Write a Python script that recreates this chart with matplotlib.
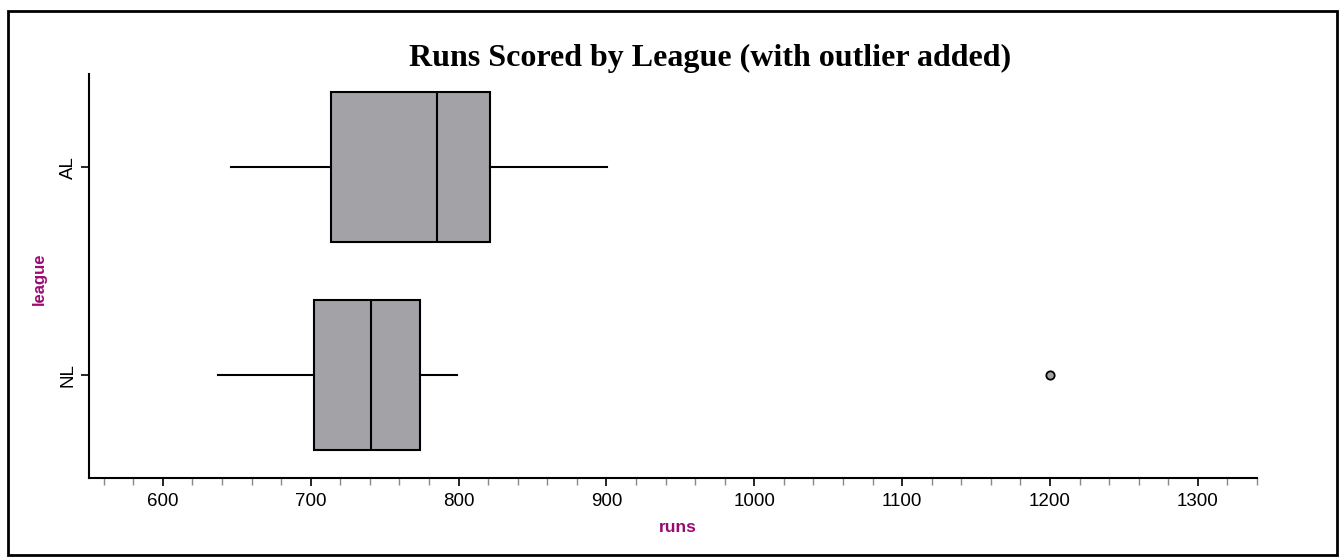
import matplotlib.pyplot as plt
from matplotlib.patches import Rectangle
from matplotlib.ticker import MultipleLocator

plt.rcParams["font.family"] = ["Liberation Sans", "DejaVu Sans"]

# five-number summaries per league, bottom to top
leagues = ["NL", "AL"]
whis_low = [637, 646]
q1 = [702.5, 714]
median = [741, 785.5]
q3 = [774, 821]
whis_high = [799, 900.5]
outliers = [[1200], []]

label_color = "#9B0A72"
box_color = "#A3A2A7"


def plot():
    fig = plt.figure(figsize=(13.39, 5.57), dpi=100)
    ax = fig.add_axes([89 / 1339, 1 - 478 / 557, 1168 / 1339, 404 / 557])

    stats = []
    for i, name in enumerate(leagues):
        stats.append({
            "label": name,
            "whislo": whis_low[i],
            "q1": q1[i],
            "med": median[i],
            "q3": q3[i],
            "whishi": whis_high[i],
            "fliers": outliers[i],
        })

    ax.bxp(stats, positions=[1, 2], widths=0.72, vert=False, patch_artist=True,
           showcaps=False,
           boxprops=dict(facecolor=box_color, edgecolor="black", linewidth=1.5),
           medianprops=dict(color="black", linewidth=1.5),
           whiskerprops=dict(color="black", linewidth=1.5),
           flierprops=dict(marker="o", markersize=6, markerfacecolor=box_color,
                           markeredgecolor="black", markeredgewidth=1.3))

    ax.set_xlim(550, 1340)
    ax.set_ylim(0.507, 2.447)

    for side in ("top", "right"):
        ax.spines[side].set_visible(False)
    for side in ("left", "bottom"):
        ax.spines[side].set_linewidth(1.5)

    ax.xaxis.set_major_locator(MultipleLocator(100))
    ax.xaxis.set_minor_locator(MultipleLocator(20))
    ax.tick_params(axis="x", which="major", length=6, width=1.2, pad=5, labelsize=13.5)
    ax.tick_params(axis="x", which="minor", length=5, width=1.0, color="#888888")
    ax.tick_params(axis="y", length=6, width=1.2, pad=3, labelsize=13.5)
    ax.set_yticks([1, 2])
    ax.set_yticklabels(leagues, rotation=90, va="center")

    ax.set_xlabel("runs", fontsize=12.5, fontweight="bold", color=label_color)
    ax.xaxis.set_label_coords((678 - 89) / 1168, -(520 - 478) / 404)
    ax.set_ylabel("league", fontsize=12, fontweight="bold", color=label_color)
    ax.yaxis.set_label_coords((47 - 89) / 1168, (478 - 279) / 404)

    fig.text(710 / 1339, 1 - 58 / 557, "Runs Scored by League (with outlier added)",
             family="Liberation Serif", fontweight="bold", fontsize=23,
             ha="center", va="center")

    # outer frame around the whole figure
    fig.patches.append(Rectangle((8 / 1339, 2 / 557), 1329 / 1339, 544 / 557,
                                 transform=fig.transFigure, fill=False,
                                 edgecolor="black", linewidth=2))

    fig.savefig("out.png", dpi=100)


if __name__ == "__main__":
    plot()
